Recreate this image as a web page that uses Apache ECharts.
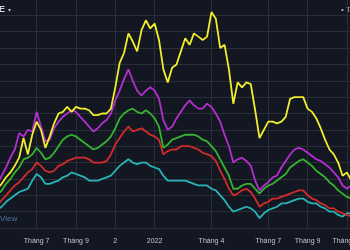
<!DOCTYPE html>
<html>
<head>
<meta charset="utf-8">
<script src="https://cdn.jsdelivr.net/npm/echarts@6/dist/echarts.min.js"></script>
<style>
html,body{margin:0;padding:0;background:#131722;}
#c{width:350px;height:250px;}
</style>
</head>
<body>
<div id="c"></div>
<script>
// Weekly sampling, first week starting 2021-04-26 (82 weeks)
var startDate = '2021-04-26';
var weekCount = 82;

// Month tick labels (week containing the month start)
var tickDates = ['2021-06-28','2021-08-30','2021-11-01','2022-01-03','2022-04-04','2022-07-04','2022-09-05','2022-11-07'];
var tickLabels = ['Tháng 7','Tháng 9','2','2022','Tháng 4','Tháng 7','Tháng 9','Tháng 11'];

// Relative performance (arbitrary %-like units, one grid step = 10)
var yellow = [24,27,31,34,38,43,55,45,57,65,60,49,56,64,70,71,74,71,74,73,73,72,69,69,70,70,73,86,101,107,119,114,108,121,127,122,125,115,97,89,98,100,108,116,112,119,117,115,117,132,128,110,112,97,76,89,86,89,88,72,55,60,65,65,64,65,68,79,80,80,80,73,71,67,61,54,48,45,40,32,34,29];
var magenta = [27,32,37,43,48,58,56,60,59,71,62,53,54,61,65,68,70,72,71,68,65,62,59,61,64,66,70,78,84,91,97,90,84,81,84,86,84,79,66,60,62,67,71,75,78,75,73,73,76,74,70,65,57,50,40,42,43,41,38,29,23,26,28,31,32,37,41,45,48,49,48,46,44,42,41,39,37,34,31,26,24,26];
var green = [20,23,27,30,34,37,42,43,45,49,46,42,43,46,50,54,56,57,56,54,52,50,48,49,51,53,56,61,67,70,72,73,71,70,72,70,67,62,49,51,54,55,56,57,57,57,56,54,53,50,47,42,37,32,24,24,26,27,27,24,21,24,26,27,29,31,33,37,39,41,42,40,38,35,33,31,28,26,23,21,19,18];
var red = [14,17,20,23,26,28,31,34,36,40,38,35,34,35,38,39,41,42,43,43,43,42,40,40,40,41,45,51,55,59,62,59,60,61,59,57,56,54,45,47,48,48,50,50,50,49,48,46,45,44,41,35,30,24,20,21,23,24,22,18,13,15,16,18,18,19,20,21,22,23,23,20,18,17,15,14,12,12,10,9,8,7];
var cyan = [11,13,16,18,20,22,23,24,29,33,31,27,27,28,29,31,32,34,33,32,31,29,29,29,30,31,32,35,38,40,42,40,39,40,40,38,37,36,32,29,29,29,29,29,28,27,26,26,26,24,23,20,17,13,10,11,12,13,12,10,6,9,11,12,13,15,15,16,17,18,18,16,15,15,13,12,10,10,8,7,9,9];

var categories = [];
(function(){
  var p = startDate.split('-');
  var t0 = Date.UTC(+p[0], +p[1]-1, +p[2]);
  for (var i = 0; i < weekCount; i++) {
    categories.push(new Date(t0 + i*7*86400000).toISOString().slice(0,10));
  }
})();
var labelMap = {};
tickDates.forEach(function(d,i){ labelMap[d] = tickLabels[i]; });
function isTick(idx, val){ return labelMap.hasOwnProperty(categories[idx]); }

var chart = echarts.init(document.getElementById('c'), null, {renderer:'canvas'});
function mk(name, data, color){
  return {name:name, type:'line', data:data, showSymbol:false, symbol:'none',
    lineStyle:{color:color, width:1.8}, itemStyle:{color:color}, animation:false};
}
chart.setOption({
  backgroundColor:'#131722',
  animation:false,
  grid:{left:-2.7, right:-1.3, top:0, bottom:22, outerBoundsMode:'none', containLabel:false},
  xAxis:{type:'category', data:categories, boundaryGap:false, offset:5,
    axisLine:{show:true, lineStyle:{color:'#2a2e39'}},
    axisTick:{show:false},
    axisLabel:{interval:isTick, formatter:function(v){return labelMap[v]||'';}, color:'#c3c6ce', fontSize:7, margin:5, fontFamily:'Liberation Sans, Arial, sans-serif'},
    splitLine:{show:true, interval:isTick, lineStyle:{color:'#2a2e39', width:1}}
  },
  yAxis:{type:'value', min:0, max:139.4, interval:10,
    axisLine:{show:false}, axisTick:{show:false}, axisLabel:{show:false},
    splitLine:{show:true, showMaxLine:false, lineStyle:{color:'#2a2e39', width:1}}
  },
  graphic:[
    {type:'text', left:-1, top:5, style:{text:'E', fill:'#d1d4dc', font:'bold 9px Liberation Sans, Arial, sans-serif'}},
    {type:'text', left:8, top:7, style:{text:'▾', fill:'#b2b5be', font:'6px DejaVu Sans, sans-serif'}},
    {type:'text', left:341, top:6, style:{text:'• T', fill:'#b2b5be', font:'8px Liberation Sans, Arial, sans-serif'}},
    {type:'text', left:0, top:215, style:{text:'View', fill:'#4f6fa8', font:'8px Liberation Sans, Arial, sans-serif'}}
  ],
  series:[
    mk('cyan', cyan, '#29b3b6'),
    mk('red', red, '#d32a2a'),
    mk('green', green, '#35b42e'),
    mk('magenta', magenta, '#b52ed0'),
    mk('yellow', yellow, '#f2ee2c')
  ]
});
</script>
</body>
</html>
